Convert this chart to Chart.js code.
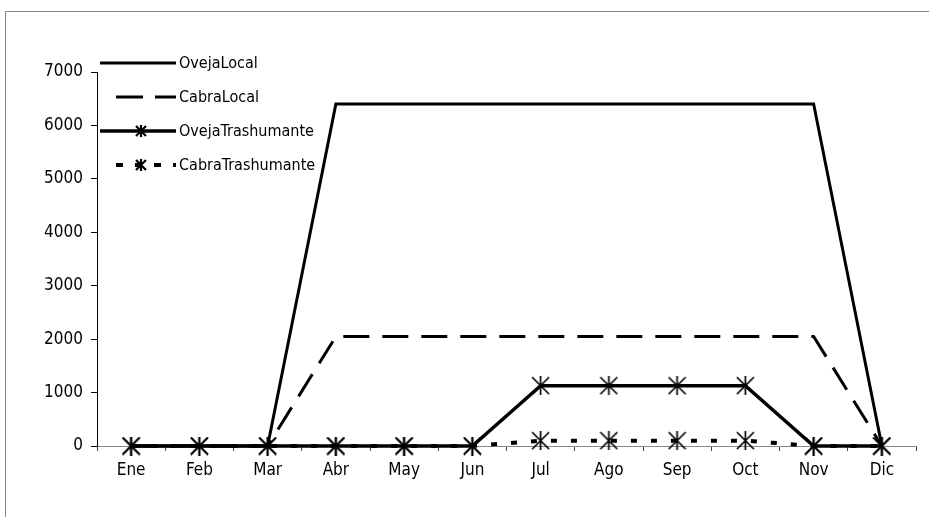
<!DOCTYPE html>
<html>
<head>
<meta charset="utf-8">
<script src="https://cdn.jsdelivr.net/npm/chart.js@4"></script>
<style>
  body { margin: 0; background: #fff; }
  .frame { position: absolute; left: 5px; top: 11px; width: 1000px; height: 600px;
           border-left: 1px solid #888; border-top: 1px solid #888; }
  .wrap { position: absolute; left: 0; top: 0; width: 929px; height: 517px; }
</style>
</head>
<body>
<div class="frame"></div>
<div class="wrap"><canvas id="c" width="929" height="517"></canvas></div>
<script>
const months = ["Ene", "Feb", "Mar", "Abr", "May", "Jun", "Jul", "Ago", "Sep", "Oct", "Nov", "Dic"];
const ovejaLocal = [0, 0, 0, 6400, 6400, 6400, 6400, 6400, 6400, 6400, 6400, 0];
const cabraLocal = [0, 0, 0, 2050, 2050, 2050, 2050, 2050, 2050, 2050, 2050, 0];
const ovejaTrashumante = [0, 0, 0, 0, 0, 0, 1130, 1130, 1130, 1130, 0, 0];
const cabraTrashumante = [0, 0, 0, 0, 0, 0, 100, 100, 100, 100, 0, 0];
const yTicks = [0, 1000, 2000, 3000, 4000, 5000, 6000, 7000];

const FONT = "'DejaVu Sans Condensed', 'DejaVu Sans', sans-serif";

// asterisk marker: an x with a vertical bar
function asterisk(size, lw) {
  const c = document.createElement("canvas");
  c.width = size; c.height = size;
  const g = c.getContext("2d");
  g.strokeStyle = "#000";
  g.lineWidth = lw;
  const p = 1, q = size - 1, m = size / 2;
  g.beginPath();
  g.moveTo(p, p); g.lineTo(q, q);
  g.moveTo(q, p); g.lineTo(p, q);
  g.moveTo(m, 0); g.lineTo(m, size);
  g.stroke();
  return c;
}
const star = asterisk(19, 1.7);
const starSmall = asterisk(12, 2.2);

const series = [
  { label: "OvejaLocal", data: ovejaLocal, dash: [], width: 3, marker: false },
  { label: "CabraLocal", data: cabraLocal, dash: [26, 13], width: 3, marker: false },
  { label: "OvejaTrashumante", data: ovejaTrashumante, dash: [], width: 3.5, marker: true },
  { label: "CabraTrashumante", data: cabraTrashumante, dash: [6, 14], width: 4, marker: true },
];

// legend drawn inside the plot, top-left
const insideLegend = {
  id: "insideLegend",
  afterDraw(chart) {
    const ctx = chart.ctx;
    ctx.save();
    series.forEach((s, i) => {
      const y = 63 + i * 34;
      ctx.strokeStyle = "#000";
      ctx.lineWidth = s.width;
      ctx.setLineDash(s.dash.length ? (s.dash[0] > 10 ? [27, 12] : [7, 12]) : []);
      ctx.lineDashOffset = s.dash.length ? -8 : 0;
      ctx.beginPath();
      ctx.moveTo(s.dash.length ? 108 : 100, y);
      ctx.lineTo(176, y);
      ctx.stroke();
      if (s.marker) ctx.drawImage(starSmall, 141 - 6, y - 6);
      ctx.setLineDash([]);
      ctx.fillStyle = "#000";
      ctx.font = "16px " + FONT;
      ctx.textBaseline = "middle";
      ctx.fillText(s.label, 179, y + 1);
    });
    ctx.restore();
  }
};

new Chart(document.getElementById("c"), {
  type: "line",
  data: {
    labels: months,
    datasets: series.map((s) => ({
      label: s.label,
      data: s.data,
      borderColor: "#000",
      backgroundColor: "#000",
      borderWidth: s.width,
      borderDash: s.dash,
      pointStyle: s.marker ? star : false,
      pointRadius: s.marker ? 9 : 0,
      tension: 0,
      fill: false,
      clip: false,
    })),
  },
  options: {
    responsive: false,
    animation: false,
    events: [],
    layout: { padding: { top: 72, right: 10, left: 0, bottom: 0 } },
    plugins: { legend: { display: false }, tooltip: { enabled: false } },
    scales: {
      x: {
        offset: true,
        afterFit: (s) => { s.height = 71; },
        grid: { display: true, offset: true, drawOnChartArea: false, drawTicks: true, tickLength: 5, color: "#444" },
        border: { display: true, color: "#888", width: 1 },
        ticks: { color: "#000", font: { family: FONT, size: 17 }, padding: 9, maxRotation: 0, autoSkip: false },
      },
      y: {
        min: 0,
        max: 7000,
        afterFit: (s) => { s.width = 97; },
        afterBuildTicks: (s) => { s.ticks = yTicks.map((v) => ({ value: v })); },
        grid: { display: true, drawOnChartArea: false, drawTicks: true, tickLength: 6, color: "#000" },
        border: { display: true, color: "#000", width: 1 },
        ticks: { color: "#000", font: { family: FONT, size: 17 }, padding: 8, callback: (v) => String(v) },
      },
    },
  },
  plugins: [insideLegend],
});
</script>
</body>
</html>
